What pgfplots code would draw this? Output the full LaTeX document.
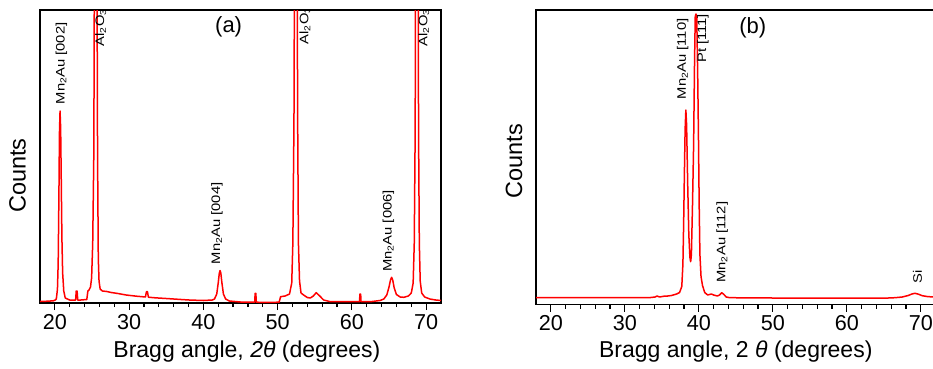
\documentclass[border=0pt]{standalone}
\usepackage{fontspec}
\setmainfont{Liberation Sans}
\newfontfamily\annfont[FakeStretch=1.2]{Liberation Sans}
\usepackage{pgfplots}
\pgfplotsset{compat=1.18}
\begin{document}
\begin{tikzpicture}
\pgfplotsset{
  xrdaxis/.style={
    scale only axis, xmin=18, xmax=72, ymin=0,
    xtick={20,30,40,50,60,70}, minor x tick num=4,
    ytick=\empty, tick align=outside, xtick pos=bottom,
    major tick length=7pt, minor tick length=4pt,
    line width=1.6pt,
    tick style={black, line width=1.2pt},
    /pgf/number format/assume math mode=true,
    ticklabel style={font=\fontsize{21.6}{21.6}\selectfont},
    xlabel style={font=\fontsize{23}{23}\selectfont, anchor=center},
    ylabel style={font=\fontsize{23.5}{23.5}\selectfont, anchor=center},
  },
  xrdline/.style={color=red, line width=1.5pt, line join=round, mark=none},
}
\tikzset{
  ann/.style={rotate=90, anchor=base west, inner sep=0pt, font=\annfont\fontsize{12.3}{12.3}\selectfont},
  panellab/.style={anchor=center, inner sep=0pt, font=\fontsize{22}{22}\selectfont},
}
% ---------------- panel (a)
\begin{axis}[xrdaxis, at={(40pt,65pt)}, anchor=south west,
  width=401pt, height=293pt, ymax=293,
  xlabel={Bragg angle, \textit{2θ} (degrees)},
  xlabel style={at={(rel axis cs:0.516,-0.167)}},
  ylabel={Counts},
  ylabel style={at={(rel axis cs:-0.056,0.435)}},
]
\addplot[xrdline] coordinates {
(18,1.5) (19,1.8) (19.8,2.2) (20.05,3) (20.2,4) (20.35,14) (20.45,40) (20.55,110) (20.62,170) (20.7,192) (20.78,175) (20.86,125) (20.95,65) (21.05,30) (21.2,12) (21.4,5) (22,3) (22.8,3) (22.88,12) (23.0,12) (23.08,3) (23.5,3) (24.3,3.5) (24.45,12) (24.6,13) (24.8,16) (24.95,25) (25.1,60) (25.25,150) (25.35,400) (25.65,400) (25.75,150) (25.85,45) (25.95,22) (26.1,14) (26.4,12) (27,11.5) (27.6,10.5) (28.5,9.5) (29.6,8) (31,6.8) (32.2,6) (32.33,11.3) (32.47,11.3) (32.6,5.8) (33.5,5.2) (35,4.5) (37,3.5) (38.1,3) (40,2.5) (41.2,3) (41.5,4) (41.8,9) (42.0,20) (42.15,30) (42.25,32.5) (42.35,30) (42.5,20) (42.7,9) (43.0,4) (43.5,2) (45,1) (46.92,0.8) (46.97,9.7) (47.07,9.7) (47.12,0.8) (48.5,0.6) (50.2,0.8) (50.4,6.3) (51.0,7) (51.6,9) (51.9,20) (52.05,60) (52.2,180) (52.3,400) (52.6,400) (52.7,180) (52.8,60) (52.95,22) (53.15,10) (53.5,8) (54.0,5.5) (54.4,5) (54.8,7) (55.2,10.3) (55.6,7.5) (56.2,3) (57,1.5) (60,1.3) (61.03,1.3) (61.08,9) (61.18,9) (61.23,1.5) (62.5,1.3) (63.8,2.5) (64.3,4) (64.7,8) (65.0,16) (65.2,23) (65.35,25.7) (65.5,23) (65.7,15) (66.0,8.5) (66.5,6) (67.0,5.7) (67.6,7) (68.0,10) (68.25,20) (68.4,60) (68.52,170) (68.6,400) (68.9,400) (68.98,170) (69.08,60) (69.2,22) (69.4,10) (69.8,6) (70.5,4) (71.3,3) (72,2.5)
};
\node[ann] at (axis cs:26.65,256) {Al\textsubscript{2}O\textsubscript{3}};
\node[ann] at (axis cs:21.3,198) {Mn\textsubscript{2}Au [002]};
\node[ann] at (axis cs:42.27,38) {Mn\textsubscript{2}Au [004]};
\node[ann] at (axis cs:54.15,258) {Al\textsubscript{2}O\textsubscript{3}};
\node[ann] at (axis cs:65.36,30.3) {Mn\textsubscript{2}Au [006]};
\node[ann] at (axis cs:70.15,256) {Al\textsubscript{2}O\textsubscript{3}};
\node[panellab] at (axis cs:43.4,276) {(a)};
\end{axis}
% ---------------- panel (b)
\begin{axis}[xrdaxis, at={(536pt,63.5pt)}, anchor=south west,
  width=399.6pt, height=294.5pt, ymax=294.5,
  xlabel={Bragg angle, 2 \textit{θ} (degrees)},
  xlabel style={at={(rel axis cs:0.5,-0.161)}},
  ylabel={Counts},
  ylabel style={at={(rel axis cs:-0.055,0.487)}},
]
\addplot[xrdline] coordinates {
(18,6.8) (25,6.8) (30,6.8) (33.5,7) (34.1,7.5) (34.35,8.5) (34.7,7.5) (35.3,8.3) (35.8,8.5) (36.3,9) (37.0,10.5) (37.4,12) (37.7,18) (37.85,40) (37.95,80) (38.05,130) (38.15,175) (38.25,194.5) (38.35,180) (38.5,120) (38.65,70) (38.8,47) (38.9,42.8) (39.0,50) (39.15,100) (39.3,160) (39.42,240) (39.52,288) (39.62,290.5) (39.72,288) (39.85,230) (39.95,170) (40.05,100) (40.15,50) (40.3,28) (40.5,19) (40.8,12) (41.2,9.5) (41.45,10) (41.7,10.5) (42.0,9.5) (42.5,8.5) (42.8,9.5) (43.1,11.8) (43.4,10) (43.7,7.5) (44.2,6.8) (50,6.5) (60,6.3) (65,6.3) (66.5,6.8) (67.5,7.5) (68.3,9) (68.8,10.5) (69.2,11.2) (69.6,10.5) (70.2,8.8) (71,7.8) (72,7.6)
};
\node[ann] at (axis cs:38.26,204.5) {Mn\textsubscript{2}Au [110]};
\node[ann] at (axis cs:41.0,241) {Pt [111]};
\node[ann] at (axis cs:43.6,21.2) {Mn\textsubscript{2}Au [112]};
\node[ann] at (axis cs:70.15,20.2) {Si};
\node[panellab] at (axis cs:47.3,276.5) {(b)};
\end{axis}
\pgfresetboundingbox
\useasboundingbox (0,0) rectangle (933pt,368pt);
\end{tikzpicture}
\end{document}
